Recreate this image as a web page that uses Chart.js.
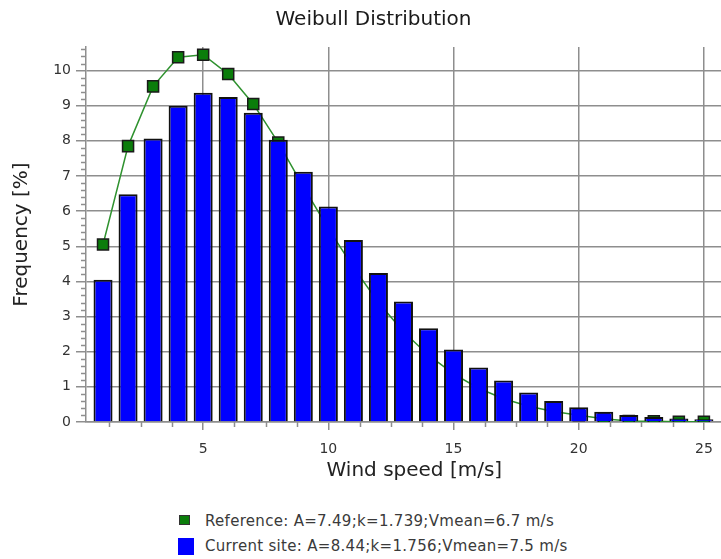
<!DOCTYPE html>
<html>
<head>
<meta charset="utf-8">
<script src="https://cdn.jsdelivr.net/npm/chart.js@4/dist/chart.umd.min.js"></script>
<style>
  body { margin: 0; width: 721px; height: 559px; overflow: hidden; background: #ffffff; font-family: "DejaVu Sans", sans-serif; }
  #wrap { position: absolute; left: 0; top: 0; width: 752px; height: 490px; }
  .leg { position: absolute; left: 0; font-size: 15px; color: #3a3a3a; white-space: nowrap; letter-spacing: 0.3px; }
  .leg span.box { position: absolute; display: block; border: 1px solid #333; box-sizing: border-box; }
  .leg span.txt { position: absolute; left: 205px; top: 0; }
</style>
</head>
<body>
<div id="wrap"><canvas id="myPlot1" width="752" height="490"></canvas></div>
<div class="leg" id="leg1" style="top:512px"><span class="box" style="left:179px;top:3px;width:11px;height:10px;background:#0b7d0b"></span><span class="txt"></span></div>
<div class="leg" id="leg2" style="top:537px"><span class="box" style="left:178px;top:1px;width:16px;height:17px;background:#0000ff;border-color:#0000ff"></span><span class="txt"></span></div>
<script>
// wind speed bins [m/s]
const speeds = [1, 2, 3, 4, 5, 6, 7, 8, 9, 10, 11, 12, 13, 14, 15, 16, 17, 18, 19, 20, 21, 22, 23, 24, 25]
// reference Weibull (green line) [%]
const refFreq = [5.05, 7.85, 9.55, 10.38, 10.45, 9.9, 9.05, 7.95, 6.7, 5.5, 4.4, 3.4, 2.57, 1.9, 1.37, 0.96, 0.66, 0.45, 0.3, 0.19, 0.09, 0.03, 0.02, 0.01, 0.01]
// current site (blue bars) [%]
const siteFreq = [4.05, 6.48, 8.07, 9.0, 9.37, 9.25, 8.8, 8.03, 7.12, 6.13, 5.18, 4.24, 3.43, 2.67, 2.06, 1.55, 1.18, 0.84, 0.6, 0.42, 0.29, 0.2, 0.14, 0.1, 0.08]
const xTicks = [5, 10, 15, 20, 25]
const yTicks = [0, 1, 2, 3, 4, 5, 6, 7, 8, 9, 10]
const seriesLabels = ['Reference: A=7.49;k=1.739;Vmean=6.7 m/s', 'Current site: A=8.44;k=1.756;Vmean=7.5 m/s']

document.querySelector('#leg1 .txt').textContent = seriesLabels[0]
document.querySelector('#leg2 .txt').textContent = seriesLabels[1]

const gridColor = '#8e8e8e'

// small minor ticks on both axes
const minorTicks = {
  id: 'minorTicks',
  afterDraw: (chart) => {
    const {ctx, scales: {x, y}, chartArea} = chart
    ctx.save()
    ctx.strokeStyle = gridColor
    ctx.lineWidth = 1.5
    ctx.beginPath()
    for (let i = 1; i * 0.2 <= y.max + 1e-9; i++) {
      if (i % 5 === 0) continue
      const py = Math.round(y.getPixelForValue(i * 0.2)) + 0.5
      ctx.moveTo(chartArea.left - 5, py)
      ctx.lineTo(chartArea.left, py)
    }
    for (let i = 1; i * 1.25 <= x.max; i++) {
      if (i % 4 === 0) continue
      const px = Math.round(x.getPixelForValue(i * 1.25)) + 0.5
      ctx.moveTo(px, chartArea.bottom)
      ctx.lineTo(px, chartArea.bottom + 5)
    }
    ctx.stroke()
    ctx.restore()
  }
}

new Chart(
  'myPlot1',
  {
    type: 'bar',
    data: {
      datasets: [
        {
          type: 'line',
          label: seriesLabels[0],
          data: speeds.map((v, i) => ({x: v, y: refFreq[i]})),
          borderColor: '#2f922f',
          borderWidth: 1.5,
          pointStyle: 'rect',
          pointRadius: 7.8,
          pointBackgroundColor: '#0b7d0b',
          pointBorderColor: '#1a1a1a',
          pointBorderWidth: 1.5,
          tension: 0,
          order: 2
        },
        {
          type: 'bar',
          label: seriesLabels[1],
          data: speeds.map((v, i) => ({x: v, y: siteFreq[i]})),
          backgroundColor: '#0000ff',
          borderColor: '#111111',
          borderWidth: 2,
          categoryPercentage: 1,
          barPercentage: 0.76,
          order: 1
        }
      ]
    },
    options: {
      responsive: false,
      animation: false,
      layout: {padding: {left: 0, right: 5, top: 0, bottom: 0}},
      scales: {
        x: {
          type: 'linear',
          min: 0.32,
          max: 26.55,
          offset: false,
          z: 1,
          afterBuildTicks: s => { s.ticks = xTicks.map(v => ({value: v})) },
          afterFit: s => { s.height = 68 },
          grid: {offset: false, color: gridColor, lineWidth: 1.5, tickLength: 8, tickColor: gridColor},
          border: {color: gridColor, width: 1.5},
          ticks: {color: '#333333', padding: 11, maxRotation: 0, font: {family: 'DejaVu Sans', size: 14}},
          title: {display: true, text: 'Wind speed [m/s]', color: '#222222', padding: {top: 0, bottom: 7}, font: {family: 'DejaVu Sans', size: 20}}
        },
        y: {
          min: 0,
          max: 10.67,
          z: 1,
          afterBuildTicks: s => { s.ticks = yTicks.map(v => ({value: v})) },
          afterFit: s => { s.width = 86 },
          grid: {color: gridColor, lineWidth: 1.5, tickLength: 10, tickColor: gridColor},
          border: {color: gridColor, width: 1.5},
          ticks: {color: '#333333', padding: 5, font: {family: 'DejaVu Sans', size: 14}},
          title: {display: true, text: 'Frequency [%]', color: '#222222', padding: {top: 10, bottom: 0}, font: {family: 'DejaVu Sans', size: 20}}
        }
      },
      plugins: {
        legend: {display: false},
        tooltip: {enabled: false},
        title: {
          display: true,
          text: 'Weibull Distribution',
          color: '#1a1a1a',
          font: {family: 'DejaVu Sans', size: 20, weight: 'normal'},
          padding: {top: 8, bottom: 15}
        }
      }
    },
    plugins: [minorTicks]
  }
)
</script>
</body>
</html>
